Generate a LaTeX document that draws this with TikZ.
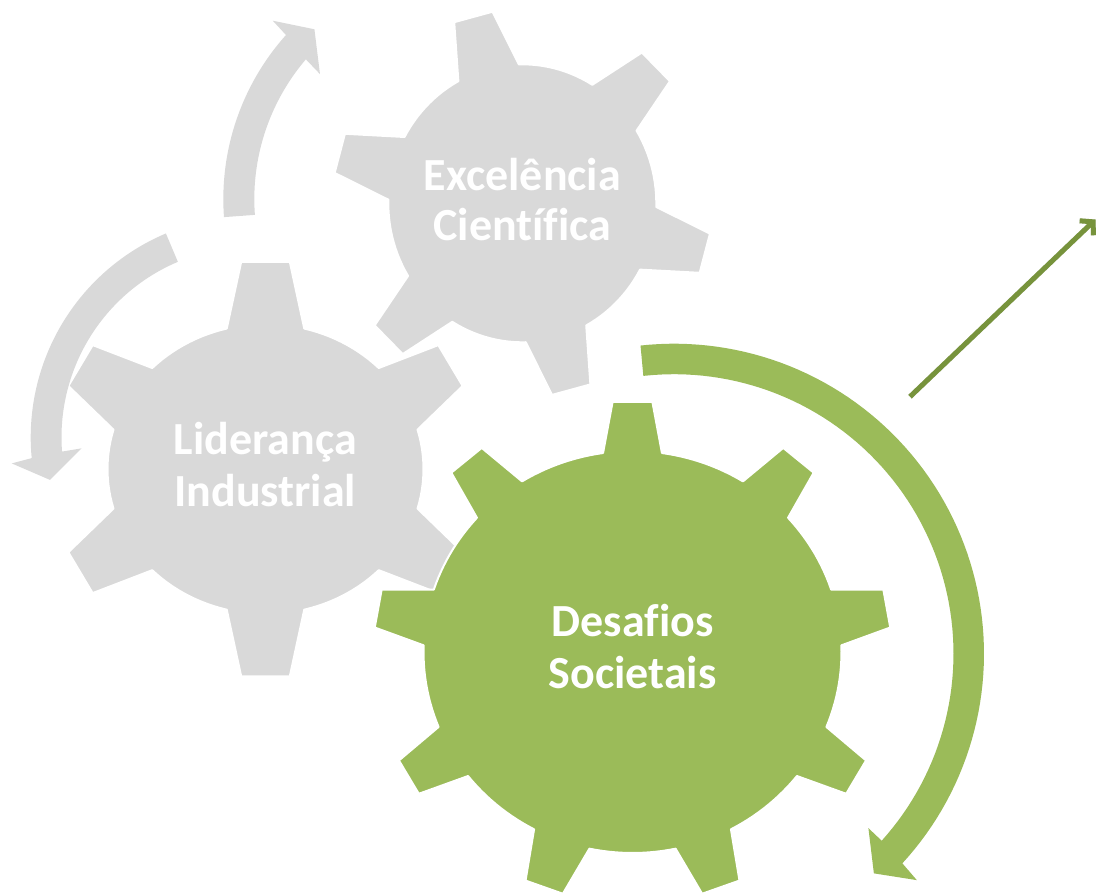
\documentclass[tikz,border=0pt]{standalone}
\usepackage{fontspec}
\setmainfont{Carlito}[Ligatures={NoCommon}]
\usetikzlibrary{arrows.meta}
\definecolor{gearGray}{HTML}{D9D9D9}
\definecolor{gearGreen}{HTML}{9BBB59}
\definecolor{lineGreen}{HTML}{77933C}
% gear outline: uses \gcx \gcy \gRx \gRy \grx \gry \gn \ga \gt \gb
\newcommand{\gearfill}[1]{%
  \path[#1] ({\gcx+\grx*cos(\ga-\gb)},{\gcy-\gry*sin(\ga-\gb)})
    \foreach \k [evaluate=\k as \angc using {\ga+(\k-1)*360/\gn},
                 evaluate=\k as \angs using {\ga+(\k-1)*360/\gn+\gb},
                 evaluate=\k as \ange using {\ga+\k*360/\gn-\gb}] in {1,...,\gn}{
      -- ({\gcx+\gRx*cos(\angc-\gt)},{\gcy-\gRy*sin(\angc-\gt)})
      -- ({\gcx+\gRx*cos(\angc+\gt)},{\gcy-\gRy*sin(\angc+\gt)})
      -- plot[domain=\angs:\ange, samples=14] ({\gcx+\grx*cos(\x)},{\gcy-\gry*sin(\x)})
    } -- cycle;
}
\tikzset{
  geargray/.style={fill=gearGray, draw=white, line width=2pt, line join=round},
  geargreen/.style={fill=gearGreen, draw=white, line width=2pt, line join=round},
  lbl/.style={text=white, font=\fontsize{46}{50}\selectfont\bfseries, inner sep=0pt, anchor=base},
  pointer/.style={line width=5pt, -{Straight Barb[length=9pt,width=20pt]}},
}
\begin{document}
\begin{tikzpicture}[x=1pt,y=-1pt]
\useasboundingbox (0,0) rectangle (1096,894);

% Excelencia gear
\def\gcx{522.3}\def\gcy{203.3}\def\gRx{190}\def\gRy{194}\def\grx{134}\def\gry{139}
\def\gn{6}\def\ga{105}\def\gt{6}\def\gb{13.5}
\coordinate (cExc) at (\gcx,\gcy);
\gearfill{geargray}

% Lideranca gear
\def\gcx{265.5}\def\gcy{469.1}\def\gRx{215}\def\gRy{208.5}\def\grx{158}\def\gry{145}
\def\gn{6}\def\ga{90}\def\gt{6.5}\def\gb{14.2}
\coordinate (cLid) at (\gcx,\gcy);
\gearfill{geargray}

% Desafios gear
\def\gcx{632.5}\def\gcy{652}\def\gRx{259}\def\gRy{251}\def\grx{209}\def\gry{201}
\def\gn{9}\def\ga{90}\def\gt{4.4}\def\gb{8.1}
\coordinate (cDes) at (\gcx,\gcy);
\gearfill{geargreen}

% green circular arrow
\fill[gearGreen] plot[domain=96.2:-42.55, samples=80] ({674+310*cos(\x)},{653.7-310*sin(\x)})
  -- ({674+332*cos(-43.0)},{653.7-332*sin(-43.0)})
  -- ({674+297*cos(-47.7)},{653.7-297*sin(-47.7)})
  -- ({674+261.2*cos(-41.9)},{653.7-261.2*sin(-41.9)})
  -- plot[domain=-42.0:96.3, samples=80] ({674+279.5*cos(\x)},{653.7-279.5*sin(\x)}) -- cycle;

% gray circular arrow (left)
\fill[gearGray] plot[domain=112.9:185.4, samples=50] ({252+221.3*cos(\x)},{437.3-221.3*sin(\x)})
  -- ({252+241.7*cos(186.2)},{437.3-241.7*sin(186.2)})
  -- ({252+206.5*cos(191.9)},{437.3-206.5*sin(191.9)})
  -- ({252+170.7*cos(183.7)},{437.3-170.7*sin(183.7)})
  -- plot[domain=184.3:112.9, samples=50] ({252+190.5*cos(\x)},{437.3-190.5*sin(\x)}) -- cycle;

% gray circular arrow (top)
\fill[gearGray] plot[domain=184.2:138.2, samples=40] ({469.5+246.2*cos(\x)},{199.1-246.2*sin(\x)})
  -- ({469.5+265.6*cos(137.8)},{199.1-265.6*sin(137.8)})
  -- ({469.5+230*cos(132.4)},{199.1-230*sin(132.4)})
  -- ({469.5+194.9*cos(140.1)},{199.1-194.9*sin(140.1)})
  -- plot[domain=139.5:184.2, samples=40] ({469.5+215.2*cos(\x)},{199.1-215.2*sin(\x)}) -- cycle;

% labels
\node[lbl] (exc1) at (522.3,190.8) {Excelência};
\node[lbl] (exc2) at (522.3,240.7) {Científica};
\node[lbl] (lid1) at (265.2,454.5) {Liderança};
\node[lbl] (lid2) at (265.2,506.5) {Industrial};
\node[lbl] (des1) at (632.5,636.7) {Desafios};
\node[lbl] (des2) at (632.5,688.3) {Societais};

% straight arrow
\coordinate (la) at (910,396.7);
\coordinate (lb) at (1095.5,219.5);
\draw[pointer, black, opacity=0.16, shift={(1.5,1.8)}] (la) -- (lb);
\draw[pointer, lineGreen] (la) -- (lb);
\end{tikzpicture}
\end{document}
